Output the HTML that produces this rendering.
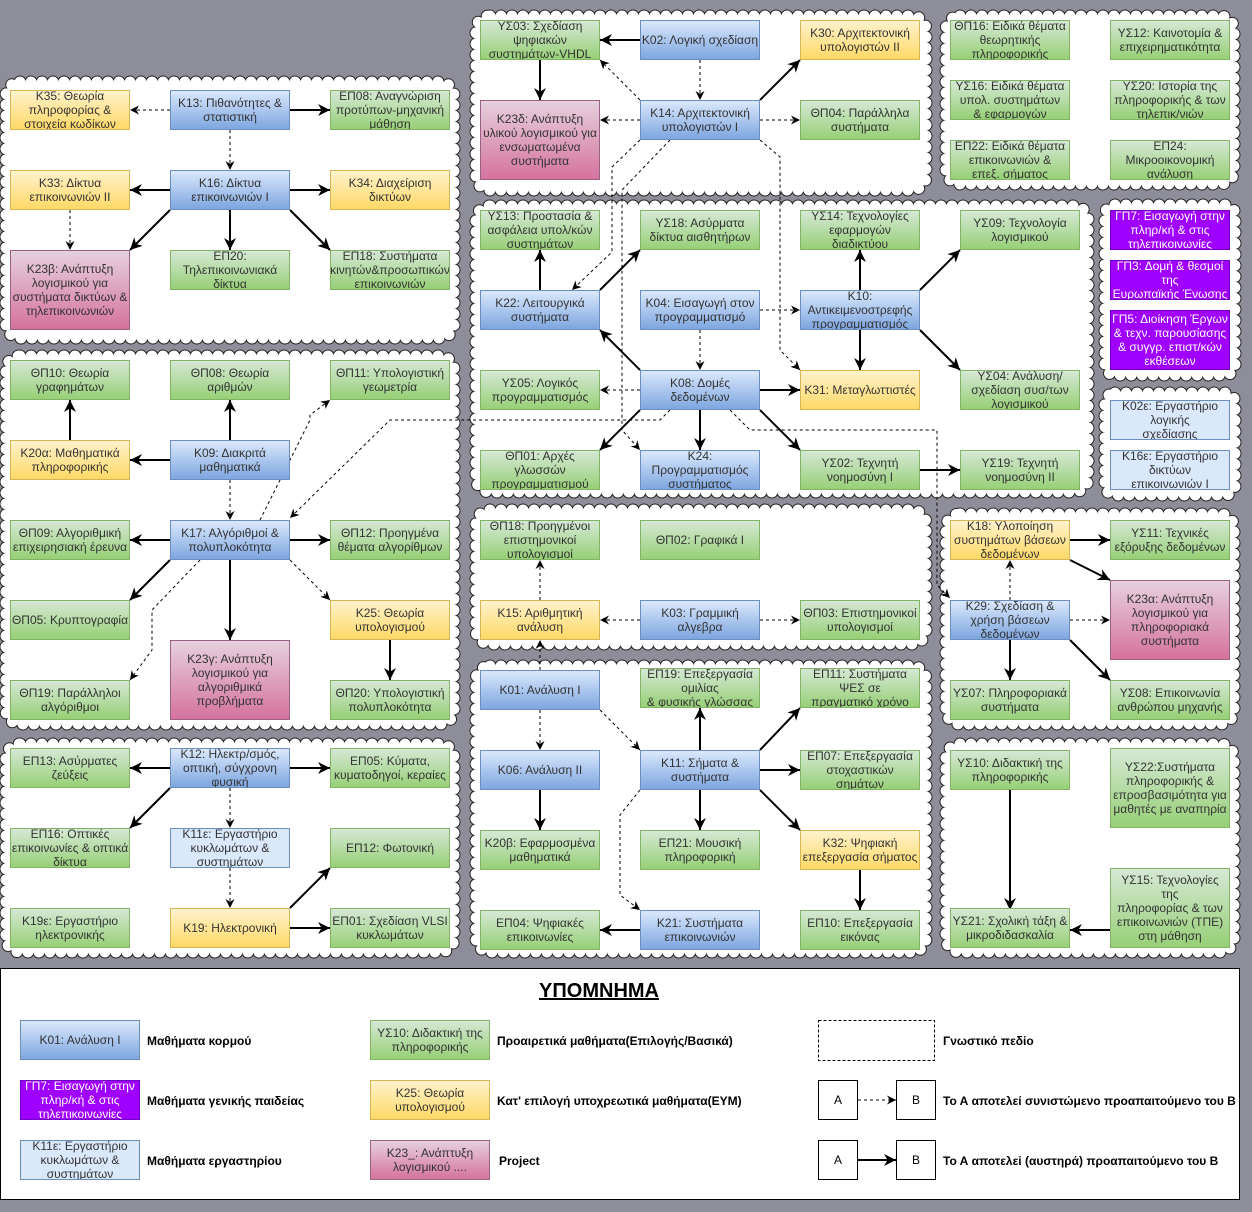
<!DOCTYPE html>
<html><head><meta charset="utf-8">
<style>
html,body{margin:0;padding:0;}
body{width:1252px;height:1212px;background:#8e8e9a;position:relative;overflow:hidden;font-family:"Liberation Sans",sans-serif;}
svg{position:absolute;left:0;top:0;}
.b{position:absolute;width:118px;height:38px;border:1px solid;display:flex;align-items:center;justify-content:center;text-align:center;font-size:12px;line-height:14px;color:#333;overflow:hidden;z-index:3;}
.bl{background:linear-gradient(#dae8fc,#7ea6e0);border-color:#6c8ebf;}
.gr{background:linear-gradient(#d5e8d4,#97d077);border-color:#82b366;}
.ye{background:linear-gradient(#fff2cc,#ffd966);border-color:#d6b656;}
.pk{background:linear-gradient(#e6d0de,#d5739d);border-color:#996185;}
.pu{background:#a000ff;border-color:#7000c0;color:#fff;}
.lb{background:#dae8fc;border-color:#6c8ebf;}
.wh{background:#fff;border-color:#000;color:#000;}
.t{position:absolute;font-size:12px;color:#000;z-index:3;white-space:nowrap;font-weight:bold;}
#leg{position:absolute;left:0;top:968px;width:1238px;height:230px;background:#fff;border:1px solid #000;z-index:1;}
</style></head><body>
<svg width="1252" height="1212" style="z-index:1">
<g fill="none" stroke="#222" stroke-width="13" stroke-dasharray="0 11" stroke-linecap="round">
<rect x="6" y="82" width="448" height="256" rx="14"/>
<rect x="476" y="16" width="450" height="174" rx="14"/>
<rect x="946" y="16" width="288" height="168" rx="14"/>
<rect x="476" y="206" width="612" height="286" rx="14"/>
<rect x="1105" y="205" width="130" height="170" rx="10"/>
<rect x="1105" y="393" width="130" height="102" rx="10"/>
<rect x="6" y="356" width="448" height="368" rx="14"/>
<rect x="476" y="510" width="450" height="134" rx="14"/>
<rect x="946" y="514" width="288" height="210" rx="14"/>
<rect x="476" y="666" width="450" height="286" rx="14"/>
<rect x="6" y="744" width="448" height="208" rx="14"/>
<rect x="946" y="744" width="288" height="208" rx="14"/>
</g>
<g fill="#fff" stroke="#fff" stroke-width="11" stroke-dasharray="0 11" stroke-linecap="round">
<rect x="6" y="82" width="448" height="256" rx="14"/>
<rect x="476" y="16" width="450" height="174" rx="14"/>
<rect x="946" y="16" width="288" height="168" rx="14"/>
<rect x="476" y="206" width="612" height="286" rx="14"/>
<rect x="1105" y="205" width="130" height="170" rx="10"/>
<rect x="1105" y="393" width="130" height="102" rx="10"/>
<rect x="6" y="356" width="448" height="368" rx="14"/>
<rect x="476" y="510" width="450" height="134" rx="14"/>
<rect x="946" y="514" width="288" height="210" rx="14"/>
<rect x="476" y="666" width="450" height="286" rx="14"/>
<rect x="6" y="744" width="448" height="208" rx="14"/>
<rect x="946" y="744" width="288" height="208" rx="14"/>
</g>
</svg>
<div id="leg"></div>
<svg width="1252" height="1212" style="z-index:2">
<defs>
<marker id="a" viewBox="0 0 10 10" refX="10" refY="5" markerWidth="12" markerHeight="12" markerUnits="userSpaceOnUse" orient="auto"><path d="M0,0 L10,5 L0,10 L3,5 z" fill="#000"/></marker>
<marker id="d" viewBox="0 0 10 10" refX="10" refY="5" markerWidth="9" markerHeight="9" markerUnits="userSpaceOnUse" orient="auto"><path d="M0,0 L10,5 L0,10 L3,5 z" fill="#000"/></marker>
</defs>
<g fill="none" stroke="#000" stroke-width="2" marker-end="url(#a)">
<path d="M290,110H330"/><path d="M170,190H130"/><path d="M290,190H330"/><path d="M170,210L130,250"/><path d="M230,210V250"/><path d="M290,210L330,250"/>
<path d="M640,40H600"/><path d="M540,60V100"/><path d="M760,100L800,60"/>
<path d="M540,290V250"/><path d="M600,290L640,250"/><path d="M640,370L600,330"/><path d="M860,290V250"/><path d="M860,330V370"/><path d="M920,290L960,250"/><path d="M920,330L960,370"/><path d="M760,390H800"/><path d="M640,410L600,450"/><path d="M700,410V450"/><path d="M760,410L800,450"/><path d="M920,470H960"/>
<path d="M70,440V400"/><path d="M230,440V400"/><path d="M170,460H130"/><path d="M170,540H130"/><path d="M290,540H330"/><path d="M170,560L130,600"/><path d="M230,560V640"/><path d="M390,640V680"/>
<path d="M1070,540H1110"/><path d="M1070,560L1110,580"/><path d="M1010,640V680"/><path d="M1070,640L1110,680"/>
<path d="M540,790V830"/><path d="M700,750V708"/><path d="M760,750L800,708"/><path d="M760,770H800"/><path d="M700,790V830"/><path d="M760,790L800,830"/><path d="M860,870V910"/><path d="M640,930H600"/>
<path d="M170,768H130"/><path d="M290,768H330"/><path d="M170,788L130,828"/><path d="M290,908L330,868"/><path d="M290,928H330"/>
<path d="M1010,790V910"/><path d="M1110,930H1070"/>
<path d="M858,1160H896"/>
</g>
<g fill="none" stroke="#000" stroke-width="1" stroke-dasharray="3 3" marker-end="url(#d)">
<path d="M170,110H130"/><path d="M230,130V170"/><path d="M70,210V250"/>
<path d="M700,60V100"/><path d="M640,100L600,60"/><path d="M640,120H600"/><path d="M760,120H800"/>
<path d="M640,140L612,167V252L572,290"/>
<path d="M670,140L622,190V430L640,450"/>
<path d="M760,140L780,157V350L800,370"/>
<path d="M670,410L660,420H390L290,518"/>
<path d="M730,410L750,430H937V585L950,598"/>
<path d="M760,310H800"/><path d="M700,330V370"/><path d="M640,390H600"/>
<path d="M230,480V520"/><path d="M260,520L310,420V415L330,400"/><path d="M200,560L152,610V650L130,680"/><path d="M290,560L330,600"/>
<path d="M540,600V560"/><path d="M640,620H600"/><path d="M760,620H800"/><path d="M540,670V640"/>
<path d="M1010,600V560"/><path d="M1070,620H1110"/>
<path d="M540,710V750"/><path d="M600,710L640,750"/><path d="M640,790L620,815V895L640,910"/>
<path d="M230,788V828"/><path d="M230,868V908"/>
<path d="M858,1100H896"/>
</g>
<rect x="818.5" y="1020.5" width="116" height="40" fill="none" stroke="#000" stroke-dasharray="3 2"/>
</svg>

<!-- C1 -->
<div class="b ye" style="left:10px;top:90px">Κ35: Θεωρία<br>πληροφορίας &amp;<br>στοιχεία κωδίκων</div>
<div class="b bl" style="left:170px;top:90px">Κ13: Πιθανότητες &amp;<br>στατιστική</div>
<div class="b gr" style="left:330px;top:90px">ΕΠ08: Αναγνώριση<br>προτύπων-μηχανική<br>μάθηση</div>
<div class="b ye" style="left:10px;top:170px">Κ33: Δίκτυα<br>επικοινωνιών ΙΙ</div>
<div class="b bl" style="left:170px;top:170px">Κ16: Δίκτυα<br>επικοινωνιών Ι</div>
<div class="b ye" style="left:330px;top:170px">Κ34: Διαχείριση<br>δικτύων</div>
<div class="b pk" style="left:10px;top:250px;height:78px">Κ23β: Ανάπτυξη<br>λογισμικού για<br>συστήματα δικτύων &amp;<br>τηλεπικοινωνιών</div>
<div class="b gr" style="left:170px;top:250px">ΕΠ20:<br>Τηλεπικοινωνιακά<br>δίκτυα</div>
<div class="b gr" style="left:330px;top:250px">ΕΠ18: Συστήματα<br>κινητών&amp;προσωπικών<br>επικοινωνιών</div>
<!-- C2 -->
<div class="b gr" style="left:480px;top:20px">ΥΣ03: Σχεδίαση<br>ψηφιακών<br>συστημάτων-VHDL</div>
<div class="b bl" style="left:640px;top:20px">Κ02: Λογική σχεδίαση</div>
<div class="b ye" style="left:800px;top:20px">Κ30: Αρχιτεκτονική<br>υπολογιστών ΙΙ</div>
<div class="b pk" style="left:480px;top:100px;height:78px">Κ23δ: Ανάπτυξη<br>υλικού λογισμικού για<br>ενσωματωμένα<br>συστήματα</div>
<div class="b bl" style="left:640px;top:100px">Κ14: Αρχιτεκτονική<br>υπολογιστών Ι</div>
<div class="b gr" style="left:800px;top:100px">ΘΠ04: Παράλληλα<br>συστήματα</div>
<!-- C3 -->
<div class="b gr" style="left:950px;top:20px">ΘΠ16: Ειδικά θέματα<br>θεωρητικής<br>πληροφορικής</div>
<div class="b gr" style="left:1110px;top:20px">ΥΣ12: Καινοτομία &amp;<br>επιχειρηματικότητα</div>
<div class="b gr" style="left:950px;top:80px">ΥΣ16: Ειδικά θέματα<br>υπολ. συστημάτων<br>&amp; εφαρμογών</div>
<div class="b gr" style="left:1110px;top:80px">ΥΣ20: Ιστορία της<br>πληροφορικής &amp; των<br>τηλεπικ/νιών</div>
<div class="b gr" style="left:950px;top:140px">ΕΠ22: Ειδικά θέματα<br>επικοινωνιών &amp;<br>επεξ. σήματος</div>
<div class="b gr" style="left:1110px;top:140px">ΕΠ24:<br>Μικροοικονομική<br>ανάλυση</div>
<!-- C4 -->
<div class="b gr" style="left:480px;top:210px">ΥΣ13: Προστασία &amp;<br>ασφάλεια υπολ/κών<br>συστημάτων</div>
<div class="b gr" style="left:640px;top:210px">ΥΣ18: Ασύρματα<br>δίκτυα αισθητήρων</div>
<div class="b gr" style="left:800px;top:210px">ΥΣ14: Τεχνολογίες<br>εφαρμογών<br>διαδικτύου</div>
<div class="b gr" style="left:960px;top:210px">ΥΣ09: Τεχνολογία<br>λογισμικού</div>
<div class="b bl" style="left:480px;top:290px">Κ22: Λειτουργικά<br>συστήματα</div>
<div class="b bl" style="left:640px;top:290px">Κ04: Εισαγωγή στον<br>προγραμματισμό</div>
<div class="b bl" style="left:800px;top:290px">Κ10:<br>Αντικειμενοστρεφής<br>προγραμματισμός</div>
<div class="b gr" style="left:480px;top:370px">ΥΣ05: Λογικός<br>προγραμματισμός</div>
<div class="b bl" style="left:640px;top:370px">Κ08: Δομές<br>δεδομένων</div>
<div class="b ye" style="left:800px;top:370px">Κ31: Μεταγλωττιστές</div>
<div class="b gr" style="left:960px;top:370px">ΥΣ04: Ανάλυση/<br>σχεδίαση συσ/των<br>λογισμικού</div>
<div class="b gr" style="left:480px;top:450px">ΘΠ01: Αρχές<br>γλωσσών<br>προγραμματισμού</div>
<div class="b bl" style="left:640px;top:450px">Κ24:<br>Προγραμματισμός<br>συστήματος</div>
<div class="b gr" style="left:800px;top:450px">ΥΣ02: Τεχνητή<br>νοημοσύνη Ι</div>
<div class="b gr" style="left:960px;top:450px">ΥΣ19: Τεχνητή<br>νοημοσύνη ΙΙ</div>
<!-- C5 C6 -->
<div class="b pu" style="left:1110px;top:210px">ΓΠ7: Εισαγωγή στην<br>πληρ/κή &amp; στις<br>τηλεπικοινωνίες</div>
<div class="b pu" style="left:1110px;top:260px">ΓΠ3: Δομή &amp; θεσμοί<br>της<br>Ευρωπαϊκής Ένωσης</div>
<div class="b pu" style="left:1110px;top:310px;height:58px">ΓΠ5: Διοίκηση Έργων<br>&amp; τεχν. παρουσίασης<br>&amp; συγγρ. επιστ/κών<br>εκθέσεων</div>
<div class="b lb" style="left:1110px;top:400px">Κ02ε: Εργαστήριο<br>λογικής<br>σχεδίασης</div>
<div class="b lb" style="left:1110px;top:450px">Κ16ε: Εργαστήριο<br>δικτύων<br>επικοινωνιών Ι</div>
<!-- C7 -->
<div class="b gr" style="left:10px;top:360px">ΘΠ10: Θεωρία<br>γραφημάτων</div>
<div class="b gr" style="left:170px;top:360px">ΘΠ08: Θεωρία<br>αριθμών</div>
<div class="b gr" style="left:330px;top:360px">ΘΠ11: Υπολογιστική<br>γεωμετρία</div>
<div class="b ye" style="left:10px;top:440px">Κ20α: Μαθηματικά<br>πληροφορικής</div>
<div class="b bl" style="left:170px;top:440px">Κ09: Διακριτά<br>μαθηματικά</div>
<div class="b gr" style="left:10px;top:520px">ΘΠ09: Αλγοριθμική<br>επιχειρησιακή έρευνα</div>
<div class="b bl" style="left:170px;top:520px">Κ17: Αλγόριθμοί &amp;<br>πολυπλοκότητα</div>
<div class="b gr" style="left:330px;top:520px">ΘΠ12: Προηγμένα<br>θέματα αλγορίθμων</div>
<div class="b gr" style="left:10px;top:600px">ΘΠ05: Κρυπτογραφία</div>
<div class="b ye" style="left:330px;top:600px">Κ25: Θεωρία<br>υπολογισμού</div>
<div class="b pk" style="left:170px;top:640px;height:78px">Κ23γ: Ανάπτυξη<br>λογισμικού για<br>αλγοριθμικά<br>προβλήματα</div>
<div class="b gr" style="left:10px;top:680px">ΘΠ19: Παράλληλοι<br>αλγόριθμοι</div>
<div class="b gr" style="left:330px;top:680px">ΘΠ20: Υπολογιστική<br>πολυπλοκότητα</div>
<!-- C8 -->
<div class="b gr" style="left:480px;top:520px">ΘΠ18: Προηγμένοι<br>επιστημονικοί<br>υπολογισμοί</div>
<div class="b gr" style="left:640px;top:520px">ΘΠ02: Γραφικά Ι</div>
<div class="b ye" style="left:480px;top:600px">Κ15: Αριθμητική<br>ανάλυση</div>
<div class="b bl" style="left:640px;top:600px">Κ03: Γραμμική<br>αλγεβρα</div>
<div class="b gr" style="left:800px;top:600px">ΘΠ03: Επιστημονικοί<br>υπολογισμοί</div>
<!-- C9 -->
<div class="b ye" style="left:950px;top:520px">Κ18: Υλοποίηση<br>συστημάτων βάσεων<br>δεδομένων</div>
<div class="b gr" style="left:1110px;top:520px">ΥΣ11: Τεχνικές<br>εξόρυξης δεδομένων</div>
<div class="b bl" style="left:950px;top:600px">Κ29: Σχεδίαση &amp;<br>χρήση βάσεων<br>δεδομένων</div>
<div class="b pk" style="left:1110px;top:580px;height:78px">Κ23α: Ανάπτυξη<br>λογισμικού για<br>πληροφοριακά<br>συστήματα</div>
<div class="b gr" style="left:950px;top:680px">ΥΣ07: Πληροφοριακά<br>συστήματα</div>
<div class="b gr" style="left:1110px;top:680px">ΥΣ08: Επικοινωνία<br>ανθρώπου μηχανής</div>
<!-- C10 -->
<div class="b bl" style="left:480px;top:670px">Κ01: Ανάλυση Ι</div>
<div class="b gr" style="left:640px;top:668px">ΕΠ19: Επεξεργασία<br>ομιλίας<br>&amp; φυσικής γλώσσας</div>
<div class="b gr" style="left:800px;top:668px">ΕΠ11: Συστήματα<br>ΨΕΣ σε<br>πραγματικό χρόνο</div>
<div class="b bl" style="left:480px;top:750px">Κ06: Ανάλυση ΙΙ</div>
<div class="b bl" style="left:640px;top:750px">Κ11: Σήματα &amp;<br>συστήματα</div>
<div class="b gr" style="left:800px;top:750px">ΕΠ07: Επεξεργασία<br>στοχαστικών<br>σημάτων</div>
<div class="b gr" style="left:480px;top:830px">Κ20β: Εφαρμοσμένα<br>μαθηματικά</div>
<div class="b gr" style="left:640px;top:830px">ΕΠ21: Μουσική<br>πληροφορική</div>
<div class="b ye" style="left:800px;top:830px">Κ32: Ψηφιακή<br>επεξεργασία σήματος</div>
<div class="b gr" style="left:480px;top:910px">ΕΠ04: Ψηφιακές<br>επικοινωνίες</div>
<div class="b bl" style="left:640px;top:910px">Κ21: Συστήματα<br>επικοινωνιών</div>
<div class="b gr" style="left:800px;top:910px">ΕΠ10: Επεξεργασία<br>εικόνας</div>
<!-- C11 -->
<div class="b gr" style="left:10px;top:748px">ΕΠ13: Ασύρματες<br>ζεύξεις</div>
<div class="b bl" style="left:170px;top:748px">Κ12: Ηλεκτρ/σμός,<br>οπτική, σύγχρονη<br>φυσική</div>
<div class="b gr" style="left:330px;top:748px">ΕΠ05: Κύματα,<br>κυματοδηγοί, κεραίες</div>
<div class="b gr" style="left:10px;top:828px">ΕΠ16: Οπτικές<br>επικοινωνίες &amp; οπτικά<br>δίκτυα</div>
<div class="b lb" style="left:170px;top:828px">Κ11ε: Εργαστήριο<br>κυκλωμάτων &amp;<br>συστημάτων</div>
<div class="b gr" style="left:330px;top:828px">ΕΠ12: Φωτονική</div>
<div class="b gr" style="left:10px;top:908px">Κ19ε: Εργαστήριο<br>ηλεκτρονικής</div>
<div class="b ye" style="left:170px;top:908px">Κ19: Ηλεκτρονική</div>
<div class="b gr" style="left:330px;top:908px">ΕΠ01: Σχεδίαση VLSI<br>κυκλωμάτων</div>
<!-- C12 -->
<div class="b gr" style="left:950px;top:750px">ΥΣ10: Διδακτική της<br>πληροφορικής</div>
<div class="b gr" style="left:1110px;top:748px;height:78px">ΥΣ22:Συστήματα<br>πληροφορικής &amp;<br>επροσβασιμότητα για<br>μαθητές με αναπηρία</div>
<div class="b gr" style="left:1110px;top:868px;height:78px">ΥΣ15: Τεχνολογίες<br>της<br>πληροφορίας &amp; των<br>επικοινωνιών (ΤΠΕ)<br>στη μάθηση</div>
<div class="b gr" style="left:950px;top:908px">ΥΣ21: Σχολική τάξη &amp;<br>μικροδιδασκαλία</div>
<!-- Legend -->
<div class="t" style="left:0;width:1198px;text-align:center;top:980px;font-size:20px;font-weight:bold;text-decoration:underline;">ΥΠΟΜΝΗΜΑ</div>
<div class="b bl" style="left:20px;top:1020px">Κ01: Ανάλυση Ι</div>
<div class="t" style="left:147px;top:1034px">Μαθήματα κορμού</div>
<div class="b pu" style="left:20px;top:1080px">ΓΠ7: Εισαγωγή στην<br>πληρ/κή &amp; στις<br>τηλεπικοινωνίες</div>
<div class="t" style="left:147px;top:1094px">Μαθήματα γενικής παιδείας</div>
<div class="b lb" style="left:20px;top:1140px">Κ11ε: Εργαστήριο<br>κυκλωμάτων &amp;<br>συστημάτων</div>
<div class="t" style="left:147px;top:1154px">Μαθήματα εργαστηρίου</div>
<div class="b gr" style="left:370px;top:1020px">ΥΣ10: Διδακτική της<br>πληροφορικής</div>
<div class="t" style="left:497px;top:1034px">Προαιρετικά μαθήματα(Επιλογής/Βασικά)</div>
<div class="b ye" style="left:370px;top:1080px">Κ25: Θεωρία<br>υπολογισμού</div>
<div class="t" style="left:497px;top:1094px">Κατ' επιλογή υποχρεωτικά μαθήματα(ΕΥΜ)</div>
<div class="b pk" style="left:370px;top:1140px">Κ23_: Ανάπτυξη<br>λογισμικού ....</div>
<div class="t" style="left:499px;top:1154px">Project</div>
<div class="t" style="left:943px;top:1034px">Γνωστικό πεδίο</div>
<div class="b wh" style="left:818px;top:1080px;width:38px">A</div>
<div class="b wh" style="left:896px;top:1080px;width:38px">B</div>
<div class="t" style="left:943px;top:1094px">Το Α αποτελεί συνιστώμενο προαπαιτούμενο του Β</div>
<div class="b wh" style="left:818px;top:1140px;width:38px">A</div>
<div class="b wh" style="left:896px;top:1140px;width:38px">B</div>
<div class="t" style="left:943px;top:1154px">Το Α αποτελεί (αυστηρά) προαπαιτούμενο του Β</div>
</body></html>
